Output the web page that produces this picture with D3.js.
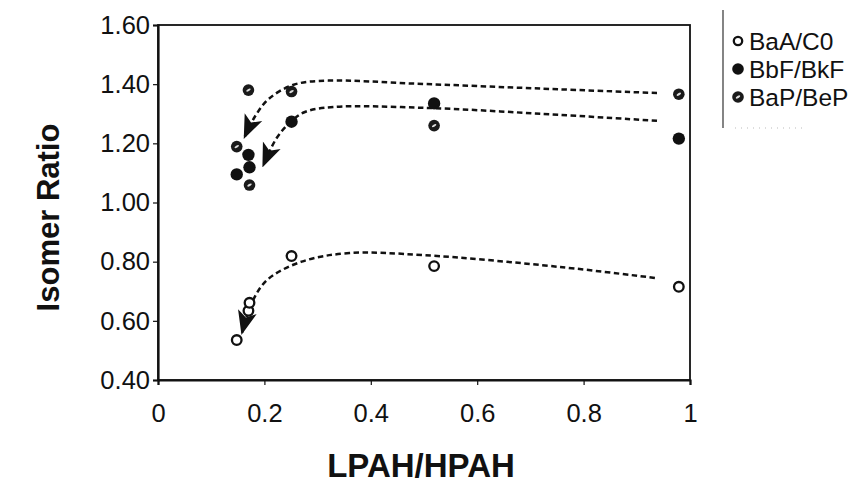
<!DOCTYPE html>
<html><head><meta charset="utf-8">
<script src="https://cdn.jsdelivr.net/npm/d3@7"></script>
<style>
body{margin:0;background:#fff;}
svg{display:block;font-family:"Liberation Sans",Arial,sans-serif;}
</style></head>
<body><svg id="c" width="863" height="485"></svg>
<script>
// ---- data ----
const xTicks = [0, 0.2, 0.4, 0.6, 0.8, 1];
const yTicks = [0.4, 0.6, 0.8, 1.0, 1.2, 1.4, 1.6];
const seriesNames = ["BaA/C0", "BbF/BkF", "BaP/BeP"];
const lpahHpah = [0.148, 0.170, 0.172, 0.251, 0.519, 0.979];
const baaC0   = [0.535, 0.634, 0.661, 0.819, 0.785, 0.715];
const bbfBkf  = [1.095, 1.161, 1.119, 1.273, 1.335, 1.216];
const bapBep  = [1.189, 1.380, 1.059, 1.375, 1.260, 1.366];
// hand-drawn trend arrows (data units), drawn from right to arrow tip
const trendBaA = [[0.934,0.745],[0.756,0.782],[0.50,0.822],[0.36,0.829],[0.27,0.80],[0.205,0.738],[0.176,0.660],[0.158,0.560]];
const trendBbF = [[0.938,1.276],[0.72,1.300],[0.50,1.320],[0.33,1.323],[0.275,1.305],[0.245,1.265],[0.222,1.215],[0.198,1.126]];
const trendBaP = [[0.938,1.370],[0.72,1.385],[0.48,1.402],[0.32,1.412],[0.255,1.398],[0.208,1.350],[0.182,1.290],[0.163,1.222]];

const svg = d3.select("#c");
const L = 158, R = 690, T = 25, B = 380;
const x = d3.scaleLinear().domain([0, 1]).range([L, R]);
const y = d3.scaleLinear().domain([0.4, 1.6]).range([B, T]);

// frame
svg.append("rect").attr("x", L).attr("y", T).attr("width", R - L).attr("height", B - T)
  .attr("fill", "none").attr("stroke", "#111").attr("stroke-width", 1.8);

// axes
const yAx = svg.append("g").attr("transform", `translate(${L},0)`)
  .call(d3.axisLeft(y).tickValues(yTicks).tickFormat(d3.format(".2f")).tickSize(5).tickPadding(3));
const xAx = svg.append("g").attr("transform", `translate(0,${B})`)
  .call(d3.axisBottom(x).tickValues(xTicks).tickFormat(d => String(d)).tickSize(5).tickPadding(19));
[yAx, xAx].forEach(g => {
  g.select(".domain").attr("stroke", "#111").attr("stroke-width", 2.2);
  g.selectAll(".tick line").attr("stroke", "#111").attr("stroke-width", 1.2);
  g.selectAll("text").attr("font-size", 25.5).attr("fill", "#111")
    .attr("font-family", "'Liberation Sans',Arial,sans-serif");
});

// axis titles
svg.append("text").attr("x", (L + R) / 2 - 3).attr("y", 477).attr("text-anchor", "middle")
  .attr("font-size", 33).attr("font-weight", "bold").attr("fill", "#111").text("LPAH/HPAH");
svg.append("text").attr("transform", `translate(59,${(T + B) / 2 + 15}) rotate(-90)`)
  .attr("text-anchor", "middle").attr("font-size", 31).attr("font-weight", "bold")
  .attr("fill", "#111").text("Isomer Ratio");

// arrow marker
svg.append("defs").append("marker").attr("id", "ah")
  .attr("viewBox", "0 0 10 10").attr("refX", 9).attr("refY", 5)
  .attr("markerWidth", 24).attr("markerHeight", 24).attr("markerUnits", "userSpaceOnUse")
  .attr("orient", "auto")
  .append("path").attr("d", "M0,1 L10,5 L0,9 L2.5,5 Z").attr("fill", "#111");

const line = d3.line().x(d => x(d[0])).y(d => y(d[1])).curve(d3.curveCatmullRom.alpha(0.5));
[trendBaA, trendBbF, trendBaP].forEach(t => {
  svg.append("path").attr("d", line(t)).attr("fill", "none").attr("stroke", "#111")
    .attr("stroke-width", 2.5).attr("stroke-dasharray", "5.5,3.5").attr("marker-end", "url(#ah)");
});

// marker drawers
function openCircle(g, cx, cy, r) {
  g.append("circle").attr("cx", cx).attr("cy", cy).attr("r", r || 4.8)
    .attr("fill", "#fff").attr("stroke", "#111").attr("stroke-width", 2.3);
}
function filledCircle(g, cx, cy, r) {
  g.append("circle").attr("cx", cx).attr("cy", cy).attr("r", r || 6.2).attr("fill", "#111");
}
function hatchCircle(g, cx, cy) {
  g.append("circle").attr("cx", cx).attr("cy", cy).attr("r", 5.8).attr("fill", "#1a1a1a");
  g.append("ellipse").attr("cx", cx).attr("cy", cy).attr("rx", 2.5).attr("ry", 1.1)
    .attr("transform", `rotate(-30,${cx},${cy})`).attr("fill", "#ddd");
}
const pts = svg.append("g");
lpahHpah.forEach((v, i) => filledCircle(pts, x(v), y(bbfBkf[i])));
lpahHpah.forEach((v, i) => hatchCircle(pts, x(v), y(bapBep[i])));
lpahHpah.forEach((v, i) => openCircle(pts, x(v), y(baaC0[i])));

// legend
const lg = svg.append("g");
lg.append("line").attr("x1", 723).attr("x2", 723).attr("y1", 10).attr("y2", 128)
  .attr("stroke", "#333").attr("stroke-width", 1.2);
lg.append("line").attr("x1", 735).attr("x2", 805).attr("y1", 128).attr("y2", 128)
  .attr("stroke", "#bbb").attr("stroke-width", 1).attr("stroke-dasharray", "1,5");
seriesNames.forEach((n, i) => {
  const cy = 41 + i * 28;
  if (i === 0) openCircle(lg, 738, cy, 4.2);
  else if (i === 1) filledCircle(lg, 738, cy, 5.8);
  else hatchCircle(lg, 738, cy);
  lg.append("text").attr("x", 749).attr("y", cy + 8.5).attr("font-size", 24.5)
    .attr("fill", "#111").text(n);
});
</script></body></html>
